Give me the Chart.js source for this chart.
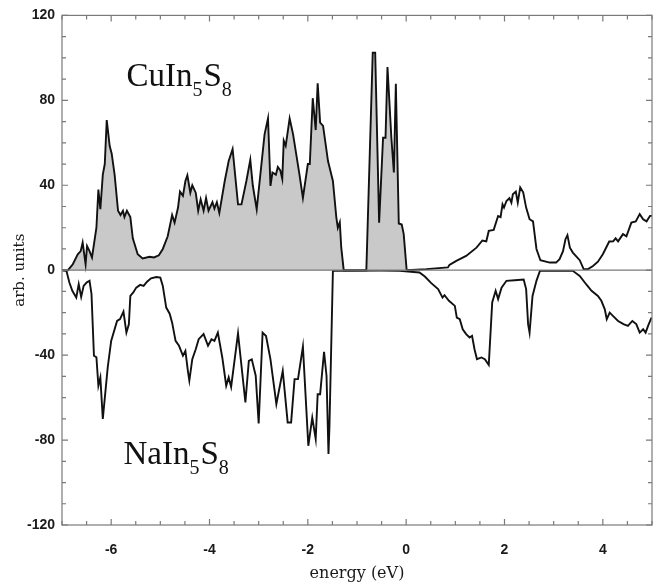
<!DOCTYPE html>
<html>
<head>
<meta charset="utf-8">
<script src="https://cdn.jsdelivr.net/npm/chart.js@4.4.0/dist/chart.umd.min.js"></script>
<style>
  html, body { margin: 0; padding: 0; background: #fff; }
  #wrap { width: 661px; height: 586px; }
</style>
</head>
<body>
<div id="wrap"><canvas id="myChart"></canvas></div>
<script>
// CuIn5S8, valence band part (filled)
const cuValE = [-6.98, -6.88, -6.78, -6.68, -6.62, -6.58, -6.52, -6.49, -6.44, -6.39, -6.30, -6.26, -6.22, -6.17, -6.13, -6.09, -6.03, -5.99, -5.93, -5.86, -5.81, -5.76, -5.73, -5.68, -5.61, -5.56, -5.46, -5.36, -5.22, -5.13, -5.03, -4.95, -4.85, -4.76, -4.71, -4.64, -4.60, -4.54, -4.49, -4.45, -4.39, -4.35, -4.28, -4.23, -4.18, -4.12, -4.07, -4.02, -3.94, -3.90, -3.85, -3.80, -3.69, -3.61, -3.53, -3.42, -3.35, -3.25, -3.17, -3.12, -3.04, -2.88, -2.81, -2.76, -2.72, -2.65, -2.61, -2.56, -2.52, -2.49, -2.45, -2.37, -2.30, -2.17, -2.10, -2.00, -1.96, -1.90, -1.84, -1.80, -1.75, -1.69, -1.59, -1.49, -1.42, -1.39, -1.35, -1.32, -1.27, -0.81, -0.68, -0.63, -0.55, -0.47, -0.42, -0.38, -0.30, -0.25, -0.21, -0.15, -0.09, -0.05, 0.01];
const cuValY = [0, 0, 2.8, 7.5, 9, 13, 2.8, 11.4, 9, 6, 20, 38, 28.7, 45, 50, 70.7, 58.5, 55, 45, 28, 26, 28, 25, 28, 25, 15, 7.5, 5.5, 6.3, 6, 7, 10, 16, 26, 22.4, 29.5, 37, 35, 42, 44.7, 36.5, 40, 36.5, 28, 33.4, 28, 34, 28, 32, 29, 32, 27, 42, 51.4, 57, 31, 31, 42, 52, 40, 28.7, 64, 71.5, 39.7, 46, 45, 48.6, 47, 43, 61, 58.6, 71.5, 64, 45, 34, 50, 50, 81, 66, 88, 69.5, 68, 51.4, 42, 24.8, 20, 22.6, 10.6, 0, 0, 102.4, 102.4, 22.4, 62.4, 62.4, 95.7, 62, 46, 87.8, 22, 21.5, 17, 0];

// CuIn5S8, conduction band part (line only)
const cuCondE = [0.01, 0.41, 0.85, 0.88, 1.02, 1.22, 1.43, 1.55, 1.63, 1.68, 1.78, 1.87, 1.92, 1.96, 1.99, 2.04, 2.10, 2.14, 2.17, 2.23, 2.27, 2.32, 2.38, 2.44, 2.51, 2.58, 2.65, 2.73, 2.92, 3.05, 3.12, 3.19, 3.24, 3.28, 3.33, 3.39, 3.53, 3.61, 3.70, 3.80, 3.90, 4.00, 4.13, 4.21, 4.26, 4.31, 4.41, 4.48, 4.58, 4.67, 4.75, 4.82, 4.89, 4.96, 5.0];
const cuCondY = [0, 0.5, 1.3, 2.5, 4.4, 6.7, 10.6, 14, 13.6, 18.5, 19, 25.5, 25, 31, 29.5, 32.6, 33.9, 31.8, 35.8, 37, 31.8, 39, 36.7, 29.5, 24, 23, 10, 4.7, 3.6, 3.6, 5.2, 9, 14.6, 16.5, 10.6, 8.3, 4.7, 0.5, 0.5, 2, 4, 7.5, 13.5, 13.6, 15, 13.6, 17, 16, 22.4, 23, 26.4, 24, 23, 25.6, 25.6];

// NaIn5S8 (plotted negative)
const naE = [-7.0, -6.91, -6.85, -6.79, -6.71, -6.66, -6.61, -6.56, -6.50, -6.44, -6.40, -6.35, -6.30, -6.26, -6.22, -6.17, -6.07, -6.00, -5.88, -5.82, -5.75, -5.69, -5.64, -5.61, -5.55, -5.49, -5.41, -5.34, -5.27, -5.19, -5.08, -5.00, -4.95, -4.88, -4.81, -4.76, -4.69, -4.62, -4.54, -4.49, -4.44, -4.41, -4.35, -4.28, -4.22, -4.12, -4.03, -3.96, -3.90, -3.83, -3.74, -3.66, -3.61, -3.56, -3.42, -3.27, -3.20, -3.14, -3.06, -3.00, -2.92, -2.85, -2.76, -2.64, -2.51, -2.41, -2.34, -2.27, -2.20, -2.10, -1.99, -1.91, -1.84, -1.80, -1.75, -1.67, -1.62, -1.58, -1.56, -1.49, -0.50, -0.13, 0.27, 0.38, 0.51, 0.65, 0.74, 0.78, 0.87, 0.99, 1.03, 1.09, 1.15, 1.22, 1.29, 1.34, 1.39, 1.44, 1.53, 1.60, 1.68, 1.75, 1.82, 1.87, 1.94, 2.04, 2.21, 2.39, 2.44, 2.48, 2.51, 2.57, 2.65, 2.72, 3.39, 3.53, 3.66, 3.77, 3.90, 3.97, 4.04, 4.08, 4.14, 4.21, 4.31, 4.42, 4.51, 4.60, 4.68, 4.75, 4.82, 4.87, 4.92, 4.99];
const naY = [0, -0.3, -5.8, -9.7, -12.9, -6.6, -12.6, -7.4, -5.8, -5, -11.3, -40.3, -41, -54.4, -50.5, -70, -45.8, -33.3, -23.9, -23, -19.5, -29.4, -25.5, -12.1, -10.5, -8.2, -6.9, -7.4, -5.4, -3.8, -3.2, -3.5, -7.4, -17.6, -20.5, -24.7, -33.3, -35.6, -40.3, -38, -47.4, -52, -41.9, -37.2, -32.5, -30.1, -35.6, -32.5, -33.3, -29.4, -41.1, -54.4, -50.5, -55, -29.8, -62.3, -42.7, -42, -49.7, -72.2, -29.4, -31, -42, -63, -47.4, -71.7, -71.7, -51.3, -51.3, -36, -82.7, -69.4, -79.5, -58.4, -58.4, -38.4, -49.7, -86.6, -73.3, -0.3, -0.2, -0.3, -1.1, -3, -6.1, -8.9, -12.9, -11.8, -14.4, -16.8, -22.3, -23.1, -27.8, -30.1, -31.7, -30.9, -37.2, -41.9, -41.1, -41.9, -44.6, -15.2, -9.7, -13.6, -8.2, -5, -4.7, -4.4, -8.9, -25.4, -29.4, -12.1, -5, -0.3, -0.3, -2.7, -6.6, -9.7, -12.1, -14.4, -18.4, -23.1, -20, -21.6, -23.9, -25.4, -26.2, -23.9, -25.4, -29.4, -27.8, -29.4, -26.2, -22.3];

const xTickLabels = [-6, -4, -2, 0, 2, 4];
const yTickLabels = [-120, -80, -40, 0, 40, 80, 120];

const pts = (xs, ys) => xs.map((x, i) => ({ x: x, y: ys[i] }));

// frame, inward ticks, zero line and compound labels
const frameAndLabels = {
  id: "frameAndLabels",
  afterDatasetsDraw(chart) {
    const { ctx, chartArea: { left, right, top, bottom }, scales: { x, y } } = chart;
    ctx.save();
    ctx.strokeStyle = "#7a7a7a";
    ctx.lineWidth = 1.2;
    ctx.strokeRect(left, top, right - left, bottom - top);
    // zero line
    ctx.beginPath();
    ctx.moveTo(left, y.getPixelForValue(0));
    ctx.lineTo(right, y.getPixelForValue(0));
    ctx.stroke();
    // x ticks every 0.5
    ctx.beginPath();
    for (let v = -7; v <= 5.001; v += 0.5) {
      const px = x.getPixelForValue(v);
      const len = Number.isInteger(v) && v % 2 === 0 ? 6 : 4;
      ctx.moveTo(px, bottom); ctx.lineTo(px, bottom - len);
      ctx.moveTo(px, top); ctx.lineTo(px, top + len);
    }
    // y ticks every 10
    for (let v = -120; v <= 120; v += 10) {
      const py = y.getPixelForValue(v);
      const len = v % 40 === 0 ? 6 : 4;
      ctx.moveTo(left, py); ctx.lineTo(left + len, py);
      ctx.moveTo(right, py); ctx.lineTo(right - len, py);
    }
    ctx.stroke();

    // compound labels
    const drawFormula = (parts, ex, ey) => {
      let cx = x.getPixelForValue(ex);
      const by = y.getPixelForValue(ey);
      ctx.fillStyle = "#111";
      ctx.textBaseline = "alphabetic";
      ctx.textAlign = "left";
      parts.forEach(([t, sub]) => {
        ctx.font = sub ? "20px 'Liberation Serif'" : "33px 'Liberation Serif'";
        ctx.fillText(t, cx, sub ? by + 10 : by);
        cx += ctx.measureText(t).width + (sub ? 1 : 0);
      });
    };
    drawFormula([["CuIn", false], ["5", true], ["S", false], ["8", true]], -5.69, 86.7);
    drawFormula([["NaIn", false], ["5", true], ["S", false], ["8", true]], -5.75, -91.2);
    ctx.restore();
  },
};

const tickFont = { family: "Arial, 'Liberation Sans'", size: 14, weight: "bold" };

const config = {
  type: "line",
  data: {
    datasets: [
      {
        label: "CuIn5S8 VB",
        data: pts(cuValE, cuValY),
        borderColor: "#111",
        backgroundColor: "#c9c9c9",
        borderWidth: 1.9,
        fill: "origin",
        pointRadius: 0,
        tension: 0,
      },
      {
        label: "CuIn5S8 CB",
        data: pts(cuCondE, cuCondY),
        borderColor: "#111",
        borderWidth: 1.9,
        fill: false,
        pointRadius: 0,
        tension: 0,
      },
      {
        label: "NaIn5S8",
        data: pts(naE, naY),
        borderColor: "#111",
        borderWidth: 1.9,
        fill: false,
        pointRadius: 0,
        tension: 0,
      },
    ],
  },
  options: {
    responsive: true,
    maintainAspectRatio: false,
    animation: false,
    devicePixelRatio: 1,
    layout: { padding: { top: 14, right: 9, left: 0, bottom: 0 } },
    plugins: {
      legend: { display: false },
      tooltip: { enabled: false },
    },
    scales: {
      x: {
        type: "linear",
        min: -7,
        max: 5,
        afterBuildTicks: (s) => { s.ticks = xTickLabels.map((v) => ({ value: v })); },
        afterFit: (s) => { s.height = 61; },
        grid: { display: false, drawTicks: false },
        border: { display: false },
        ticks: { font: tickFont, color: "#1a1a1a", padding: 17, maxRotation: 0 },
        title: {
          display: true,
          text: "energy (eV)",
          font: { family: "'DejaVu Serif'", size: 16 },
          color: "#1a1a1a",
          padding: { top: 0, bottom: 3 },
        },
      },
      y: {
        min: -120,
        max: 120,
        afterBuildTicks: (s) => { s.ticks = yTickLabels.map((v) => ({ value: v })); },
        afterFit: (s) => { s.width = 62; },
        grid: { display: false, drawTicks: false },
        border: { display: false },
        ticks: { font: tickFont, color: "#1a1a1a", padding: 7 },
        title: {
          display: true,
          text: "arb. units",
          font: { family: "'DejaVu Serif'", size: 15 },
          color: "#1a1a1a",
          padding: { top: 11, bottom: 0 },
        },
      },
    },
  },
  plugins: [frameAndLabels],
};

const myChart = new Chart(document.getElementById("myChart"), config);
</script>
</body>
</html>
